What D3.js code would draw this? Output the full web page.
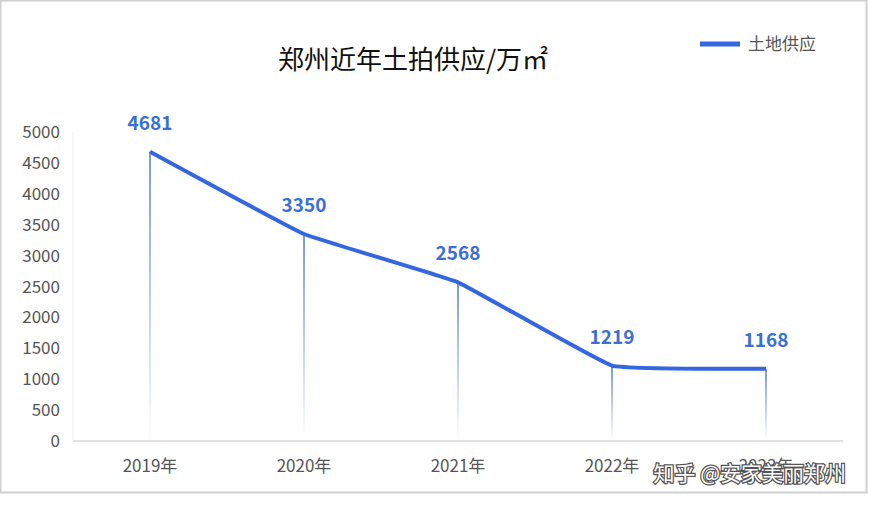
<!DOCTYPE html>
<html><head><meta charset="utf-8">
<script src="https://cdn.jsdelivr.net/npm/d3@7/dist/d3.min.js"></script>
<style>body{margin:0;background:#fff;font-family:"Noto Sans CJK SC","Noto Sans",sans-serif}</style>
</head><body><svg id="c" width="869" height="508"></svg>
<script>
const categories=["2019年","2020年","2021年","2022年","2023年"];
const values=[4681,3350,2568,1219,1168];
const yTicks=[0,500,1000,1500,2000,2500,3000,3500,4000,4500,5000];
const seriesName="土地供应";
const title="郑州近年土拍供应/万㎡";
const svg=d3.select("#c");
svg.append("rect").attr("x",0.5).attr("y",0.5).attr("width",866).attr("height",492).attr("fill","#fff").attr("stroke","#d0d0d0").attr("stroke-width",2);
const x=d3.scaleBand().domain(categories).range([73,843]);
const y=d3.scaleLinear().domain([0,5000]).range([441,132]);
const cx=d=>x(d)+x.bandwidth()/2;
const defs=svg.append("defs");
const g=defs.append("linearGradient").attr("id","dg").attr("x1",0).attr("x2",0).attr("y1",0).attr("y2",1);
g.append("stop").attr("offset",0).attr("stop-color","#4a78c8");
g.append("stop").attr("offset",1).attr("stop-color","#4a78c8").attr("stop-opacity",0);
svg.append("text").attr("x",413).attr("y",69).attr("text-anchor","middle").attr("font-size",26).attr("fill","#111").text(title);
svg.selectAll(".yt").data(yTicks).join("text").attr("x",60).attr("y",d=>y(d)+6).attr("text-anchor","end").attr("font-size",17).attr("fill","#555").text(d=>d);
svg.append("line").attr("x1",73).attr("x2",843).attr("y1",441).attr("y2",441).attr("stroke","#d8d8d8").attr("stroke-width",1.5);
svg.append("line").attr("x1",73).attr("x2",73).attr("y1",132).attr("y2",441).attr("stroke","#f0f0f0");
svg.selectAll(".xt").data(categories).join("text").attr("x",d=>cx(d)).attr("y",472).attr("text-anchor","middle").attr("font-size",17).attr("fill","#555").text(d=>d);
svg.selectAll(".drop").data(values).join("rect").attr("x",(d,i)=>cx(categories[i])-0.75).attr("width",1.5).attr("y",d=>y(d)).attr("height",d=>441-y(d)).attr("fill","url(#dg)");
const line=d3.line().x((d,i)=>cx(categories[i])).y(d=>y(d)).curve(d3.curveCardinal.tension(0.75));
svg.append("path").attr("d",line(values)).attr("fill","none").attr("stroke","#3366e0").attr("stroke-width",4);
svg.selectAll(".lb").data(values).join("text").attr("x",(d,i)=>cx(categories[i])).attr("y",d=>y(d)-22).attr("text-anchor","middle").attr("font-size",19).attr("font-weight","bold").attr("fill","#3a6fd8").text(d=>d);
svg.append("line").attr("x1",700).attr("x2",740).attr("y1",44).attr("y2",44).attr("stroke","#3366e0").attr("stroke-width",5);
svg.append("text").attr("x",748).attr("y",50).attr("font-size",17).attr("fill","#555").text(seriesName);
svg.append("text").attr("x",846).attr("y",481).attr("text-anchor","end").attr("font-size",21).attr("fill","#fff").attr("stroke","#555").attr("stroke-width",2.5).attr("paint-order","stroke").text("知乎 @安家美丽郑州");
</script></body></html>
